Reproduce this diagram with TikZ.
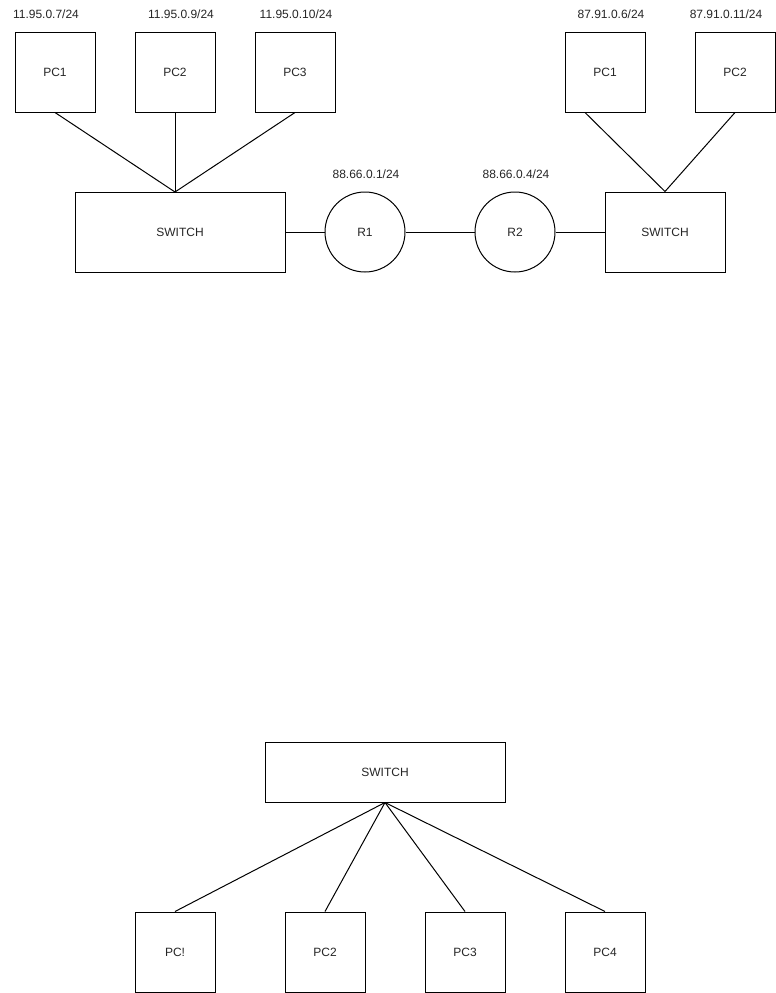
\documentclass[tikz,border=0pt]{standalone}
\usepackage{fontspec}
\setmainfont{Liberation Sans}
\begin{document}
\begin{tikzpicture}[x=1pt,y=-1pt,
  every node/.style={font=\fontsize{12}{14}\selectfont, inner sep=0pt, text=black!85},
  box/.style={draw, line width=1pt, minimum width=#1, minimum height=80pt},
  box/.default=80pt,
  router/.style={draw, line width=1pt, circle, minimum size=80pt},
  link/.style={line width=1pt},
  addr/.style={}]
\useasboundingbox[fill=white] (0,0) rectangle (776,993);

% left LAN
\node[box] (pc1) at (55,72) {PC1};
\node[box] (pc2) at (175,72) {PC2};
\node[box] (pc3) at (295,72) {PC3};
\node[addr] (a1) at (46,14) {11.95.0.7/24};
\node[addr] (a2) at (181,14) {11.95.0.9/24};
\node[addr] (a3) at (296,14) {11.95.0.10/24};
\node[box=210pt] (swL) at (180,232) {SWITCH};
\coordinate (swLtop) at (175,192);

% routers
\node[router] (r1) at (365,232) {R1};
\node[router] (r2) at (515,232) {R2};
\node[addr] (ar1) at (366,174) {88.66.0.1/24};
\node[addr] (ar2) at (516,174) {88.66.0.4/24};

% right LAN
\node[box] (qc1) at (605,72) {PC1};
\node[box] (qc2) at (735,72) {PC2};
\node[addr] (b1) at (611,14) {87.91.0.6/24};
\node[addr] (b2) at (726,14) {87.91.0.11/24};
\node[box=120pt] (swR) at (665,232) {SWITCH};

% links
\draw[link] (pc1.south) -- (swLtop);
\draw[link] (pc2.south) -- (swLtop);
\draw[link] (pc3.south) -- (swLtop);
\draw[link] (swL.east) -- (r1.west);
\draw[link] (r1.east) -- (r2.west);
\draw[link] (r2.east) -- (swR.west);
\draw[link] ([xshift=-20pt]qc1.south) -- (swR.north);
\draw[link] (qc2.south) -- (swR.north);

% star LAN
\node[box=240pt, minimum height=60pt] (swB) at (385,772) {SWITCH};
\node[box] (d1) at (175,952) {PC!};
\node[box] (d2) at (325,952) {PC2};
\node[box] (d3) at (465,952) {PC3};
\node[box] (d4) at (605,952) {PC4};
\draw[link] (swB.south) -- (d1.north);
\draw[link] (swB.south) -- (d2.north);
\draw[link] (swB.south) -- (d3.north);
\draw[link] (swB.south) -- (d4.north);
\end{tikzpicture}
\end{document}
